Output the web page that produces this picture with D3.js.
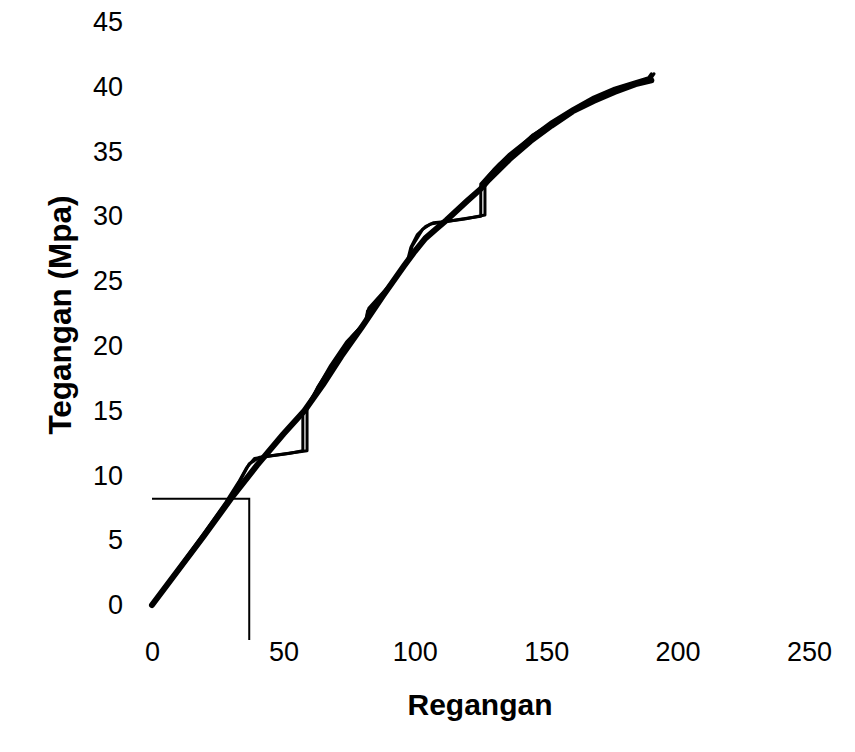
<!DOCTYPE html>
<html>
<head>
<meta charset="utf-8">
<script src="https://cdn.jsdelivr.net/npm/d3@7/dist/d3.min.js"></script>
<style>
  html, body { margin: 0; padding: 0; background: #fff; }
  svg { display: block; font-family: "Liberation Sans", Arial, sans-serif; }
</style>
</head>
<body>
<svg id="chart" width="855" height="752"></svg>
<script>
// ---- Data ----
const xTicks = [0, 50, 100, 150, 200, 250];
const yTicks = [0, 5, 10, 15, 20, 25, 30, 35, 40, 45];

// Specimen 1 (smooth curve)
const strain1 = [0, 10, 20, 30, 40, 50, 58, 65, 72, 80, 88, 96, 100, 104, 108, 112, 120, 125, 128, 136, 144, 152, 160, 168, 176, 184, 190];
const stress1 = [0, 2.7, 5.4, 8.2, 10.8, 13.2, 15.0, 17.0, 19.2, 21.5, 23.9, 26.2, 27.3, 28.3, 29.0, 29.7, 31.2, 32.1, 32.8, 34.4, 35.8, 37.0, 38.1, 38.9, 39.6, 40.2, 40.5];

// Specimen 2 (with load-hold drops)
const strain2 = [0, 10, 20, 28, 33, 36, 39, 45, 52, 57.4, 57.4, 62, 68, 74, 80, 81.5, 82, 90, 97, 98.5, 101, 104, 107, 112, 118, 125.1, 125.1, 130, 136, 144, 152, 160, 168, 176, 184, 189, 190];
const stress2 = [0, 2.8, 5.6, 7.9, 9.5, 10.6, 11.3, 11.5, 11.7, 11.9, 14.8, 16.4, 18.5, 20.3, 21.6, 21.9, 22.7, 24.5, 26.4, 27.6, 28.6, 29.2, 29.5, 29.6, 29.8, 30.0, 32.5, 33.6, 34.8, 36.1, 37.3, 38.3, 39.2, 39.9, 40.4, 40.7, 41.0];

// Specimen 3 (similar, slightly shifted)
const strain3 = [0, 10, 20, 28, 33, 37, 41, 48, 59.0, 59.0, 63, 70, 76, 81, 82.5, 90, 97.5, 99, 103, 106, 112, 119, 126.7, 126.7, 132, 138, 145, 153, 161, 169, 177, 185, 190, 191];
const stress3 = [0, 2.6, 5.3, 7.7, 9.4, 10.9, 11.4, 11.6, 11.9, 15.1, 16.8, 19.0, 20.7, 21.8, 22.9, 24.6, 26.5, 27.7, 29.0, 29.4, 29.6, 29.8, 30.1, 32.8, 34.0, 35.0, 36.3, 37.3, 38.3, 39.2, 39.9, 40.4, 40.7, 41.0];

// Reference marker lines
const markerStrain = [0, 37, 37];
const markerStress = [8.2, 8.2, -2.7];

// ---- Chart ----
const svg = d3.select("#chart");
const x = d3.scaleLinear().domain([0, 250]).range([152, 809]);
const y = d3.scaleLinear().domain([0, 45]).range([605, 22]);

const xAxis = svg.append("g").attr("transform", "translate(0,605)")
  .call(d3.axisBottom(x).tickValues(xTicks).tickSize(0).tickPadding(37).tickFormat(d3.format("d")));
xAxis.select(".domain").remove();
xAxis.selectAll("text").attr("font-size", 27).attr("fill", "#000")
  .attr("font-family", "'Liberation Sans', Arial, sans-serif");

const yAxis = svg.append("g").attr("transform", "translate(152,0)")
  .call(d3.axisLeft(y).tickValues(yTicks).tickSize(0).tickPadding(29).tickFormat(d3.format("d")));
yAxis.select(".domain").remove();
yAxis.selectAll("text").attr("font-size", 27).attr("fill", "#000")
  .attr("font-family", "'Liberation Sans', Arial, sans-serif");

svg.append("text").attr("x", 480).attr("y", 715).attr("text-anchor", "middle")
  .attr("font-size", 30).attr("font-weight", "bold").text("Regangan");

svg.append("text").attr("transform", "translate(71,315) rotate(-90)").attr("text-anchor", "middle")
  .attr("font-size", 31.5).attr("font-weight", "bold").text("Tegangan (Mpa)");

const line = d3.line().x(d => x(d[0])).y(d => y(d[1]));
const zip = (a, b) => a.map((v, i) => [v, b[i]]);

svg.append("path").datum(zip(markerStrain, markerStress)).attr("d", line)
  .attr("fill", "none").attr("stroke", "#000").attr("stroke-width", 2);

[[strain1, stress1, 6], [strain2, stress2, 3], [strain3, stress3, 3]].forEach(([sx, sy, w]) => {
  svg.append("path").datum(zip(sx, sy)).attr("d", line)
    .attr("fill", "none").attr("stroke", "#000").attr("stroke-width", w)
    .attr("stroke-linejoin", "round").attr("stroke-linecap", "round");
});
</script>
</body>
</html>
